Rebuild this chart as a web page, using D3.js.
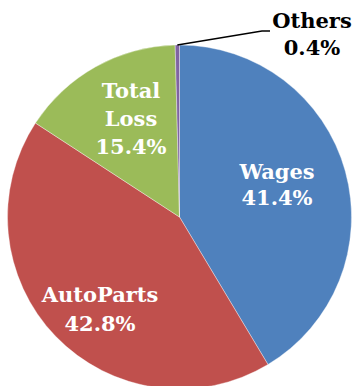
<!DOCTYPE html>
<html>
<head>
<meta charset="utf-8">
<script src="https://cdn.jsdelivr.net/npm/d3@7"></script>
<style>
  html, body { margin: 0; padding: 0; background: #ffffff; }
  svg { display: block; }
</style>
</head>
<body>
<svg id="chart" width="356" height="386"></svg>
<script>
// ---- data ----
const categories = ["Wages", "AutoParts", "Total Loss", "Others"];
const values = [41.4, 42.8, 15.4, 0.4];
const labelLines = [["Wages", "41.4%"], ["AutoParts", "42.8%"], ["Total", "Loss", "15.4%"], ["Others", "0.4%"]];
const colors = ["#4F81BD", "#C0504D", "#9BBB59", "#8064A2"];

// ---- layout ----
const W = 356, H = 386;
const cx = 179.5, cy = 217, R = 172;
// label anchor positions (x center, first baseline y, line height, fill)
const labelLayout = [
  { x: 277, y: 179, lh: 26, fill: "#ffffff" },
  { x: 100, y: 302, lh: 29, fill: "#ffffff" },
  { x: 131, y: 98, lh: 28, fill: "#ffffff" },
  { x: 312, y: 28, lh: 27, fill: "#000000" }
];

const svg = d3.select("#chart");
const data = categories.map((c, i) => ({ name: c, value: values[i], color: colors[i], lines: labelLines[i] }));

const pie = d3.pie().sort(null).value(d => d.value);
const arc = d3.arc().innerRadius(0).outerRadius(R);
const arcs = pie(data);

const g = svg.append("g").attr("transform", `translate(${cx},${cy})`);
g.selectAll("path")
  .data(arcs)
  .enter().append("path")
  .attr("d", arc)
  .attr("fill", d => d.data.color)
  .attr("stroke", "#ffffff")
  .attr("stroke-width", 0.6)
  .attr("stroke-opacity", 0.6);

// leader line for Others
const oth = arcs[3];
const mid = (oth.startAngle + oth.endAngle) / 2;
const p0 = [cx + Math.sin(mid) * R, cy - Math.cos(mid) * R];
svg.append("polyline")
  .attr("points", [p0, [262, 31], [270, 31]].map(p => p.join(",")).join(" "))
  .attr("fill", "none")
  .attr("stroke", "#000000")
  .attr("stroke-width", 1.3);

// labels
const font = "'DejaVu Serif', serif";
data.forEach((d, i) => {
  const L = labelLayout[i];
  const t = svg.append("text")
    .attr("text-anchor", "middle")
    .attr("font-family", font)
    .attr("font-weight", "bold")
    .attr("font-size", 21)
    .attr("fill", L.fill);
  d.lines.forEach((ln, k) => {
    t.append("tspan").attr("x", L.x).attr("y", L.y + k * L.lh).text(ln);
  });
});
</script>
</body>
</html>
